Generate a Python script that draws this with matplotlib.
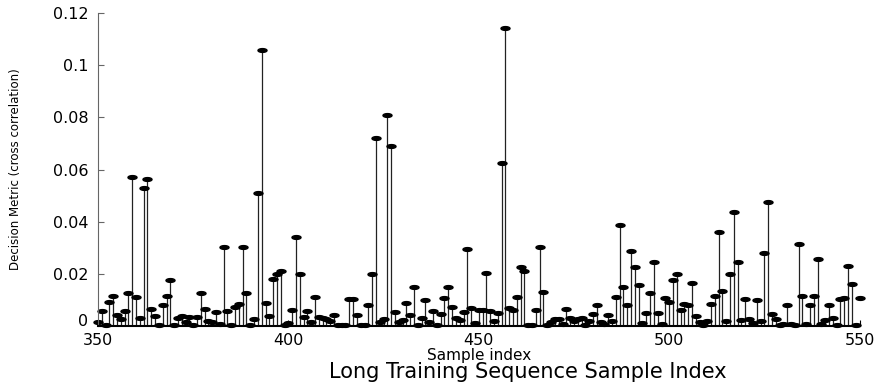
import matplotlib
matplotlib.use('Agg')
import matplotlib.pyplot as plt
import numpy as np
from matplotlib.path import Path

# sample index 350..550 and the metric
sample_start = 350
metric = [
    0.0017, 0.0057, 0.0004, 0.0093, 0.0116, 0.0042, 0.0027, 0.0057, 0.0125, 0.0573,  # 350
    0.0110, 0.0032, 0.0530, 0.0565, 0.0064, 0.0040, 0.0004, 0.0082, 0.0116, 0.0176,  # 360
    0.0004, 0.0030, 0.0040, 0.0017, 0.0036, 0.0003, 0.0036, 0.0128, 0.0066, 0.0019,  # 370
    0.0015, 0.0054, 0.0008, 0.0304, 0.0057, 0.0004, 0.0072, 0.0084, 0.0304, 0.0125,  # 380
    0.0002, 0.0028, 0.0510, 0.1060, 0.0089, 0.0040, 0.0180, 0.0198, 0.0212, 0.0003,  # 390
    0.0013, 0.0061, 0.0343, 0.0200, 0.0036, 0.0057, 0.0014, 0.0112, 0.0036, 0.0032,  # 400
    0.0027, 0.0019, 0.0042, 0.0004, 0.0003, 0.0003, 0.0102, 0.0102, 0.0042, 0.0003,  # 410
    0.0004, 0.0082, 0.0200, 0.0720, 0.0014, 0.0026, 0.0810, 0.0690, 0.0054, 0.0015,  # 420
    0.0022, 0.0089, 0.0042, 0.0148, 0.0004, 0.0032, 0.0100, 0.0015, 0.0057, 0.0004,  # 430
    0.0046, 0.0106, 0.0148, 0.0074, 0.0030, 0.0023, 0.0054, 0.0294, 0.0070, 0.0010,  # 440
    0.0061, 0.0061, 0.0205, 0.0058, 0.0019, 0.0051, 0.0626, 0.1144, 0.0068, 0.0061,  # 450
    0.0112, 0.0227, 0.0212, 0.0003, 0.0003, 0.0061, 0.0302, 0.0129, 0.0003, 0.0017,  # 460
    0.0026, 0.0026, 0.0008, 0.0064, 0.0032, 0.0019, 0.0025, 0.0032, 0.0002, 0.0021,  # 470
    0.0046, 0.0081, 0.0014, 0.0008, 0.0042, 0.0021, 0.0113, 0.0388, 0.0148, 0.0081,  # 480
    0.0287, 0.0227, 0.0156, 0.0013, 0.0050, 0.0128, 0.0247, 0.0050, 0.0008, 0.0106,  # 490
    0.0092, 0.0176, 0.0199, 0.0060, 0.0085, 0.0081, 0.0166, 0.0040, 0.0014, 0.0002,  # 500
    0.0021, 0.0086, 0.0116, 0.0360, 0.0134, 0.0018, 0.0199, 0.0438, 0.0244, 0.0024,  # 510
    0.0103, 0.0027, 0.0010, 0.0099, 0.0021, 0.0279, 0.0477, 0.0046, 0.0026, 0.0003,  # 520
    0.0006, 0.0082, 0.0008, 0.0003, 0.0314, 0.0116, 0.0008, 0.0082, 0.0116, 0.0256,  # 530
    0.0006, 0.0023, 0.0082, 0.0030, 0.0003, 0.0102, 0.0109, 0.0230, 0.0160, 0.0005,  # 540
    0.0106,                                                                          # 550
]
samples = np.arange(sample_start, sample_start + len(metric))

x_ticks = [350, 400, 450, 500, 550]
y_ticks = [0, 0.02, 0.04, 0.06, 0.08, 0.1, 0.12]
y_tick_labels = ['0', '0.02', '0.04', '0.06', '0.08', '0.1', '0.12']

# flat filled ellipse, like the squashed matlab marker
t = np.linspace(0, 2 * np.pi, 41)
ellipse = Path(np.column_stack([np.cos(t), 0.42 * np.sin(t)]), closed=True)

fig = plt.figure(figsize=(8.79, 3.86), dpi=100)
ax = fig.add_axes([98 / 879, 60 / 386, 761.5 / 879, 313 / 386])

markerline, stemlines, baseline = ax.stem(samples, metric, basefmt='k-')
stemlines.set_color('#222222')
stemlines.set_linewidth(0.9)
markerline.set_marker(ellipse)
markerline.set_markersize(6.5)
markerline.set_color('black')
markerline.set_clip_on(False)
baseline.set_linewidth(2)

ax.set_xlim(350, 550)
ax.set_ylim(0, 0.12)
ax.set_xticks(x_ticks)
ax.set_yticks(y_ticks)
ax.set_yticklabels(y_tick_labels)

for s in ['top', 'right']:
    ax.spines[s].set_visible(False)
ax.spines['left'].set_color('#666666')
ax.spines['bottom'].set_color('black')
ax.spines['bottom'].set_linewidth(1.5)

ax.tick_params(direction='in', length=4, width=0.8, labelsize=11.5)
ax.tick_params(axis='y', pad=7, colors='#666666', labelcolor='black')
ax.tick_params(axis='x', pad=5)
for lab in ax.get_xticklabels() + ax.get_yticklabels():
    lab.set_family('DejaVu Sans')
# the "0" sits on the baseline, just above the "350"
ax.get_yticklabels()[0].set_verticalalignment('baseline')

ax.set_xlabel('Sample index', fontsize=11, family='DejaVu Sans', labelpad=0)
ax.set_ylabel('Decision Metric (cross correlation)', fontsize=8.5,
              family=['Liberation Sans Narrow', 'DejaVu Sans'], labelpad=22)

fig.text(0.6, 0.022, 'Long Training Sequence Sample Index', ha='center', va='baseline',
         fontsize=15, family=['Liberation Sans Narrow', 'DejaVu Sans'])

plt.savefig('out.png', dpi=100)
